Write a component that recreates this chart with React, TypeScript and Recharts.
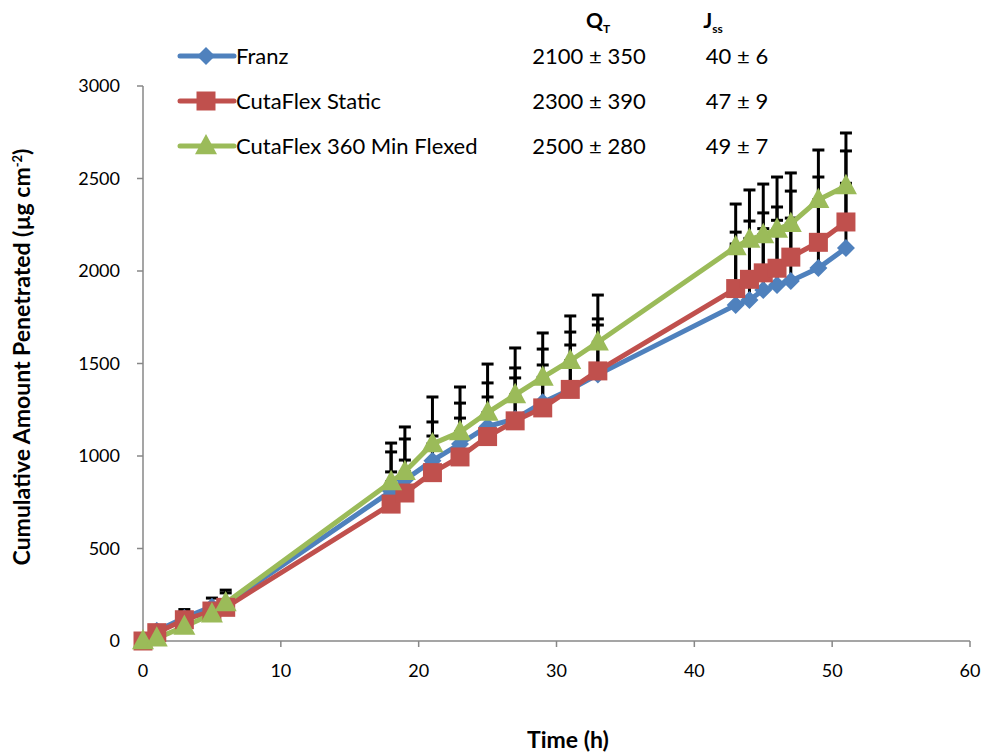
import React from 'react';
import { ComposedChart, Line, XAxis, YAxis, ErrorBar } from 'recharts';

const times = [0, 1, 3, 5, 6, 18, 19, 21, 23, 25, 27, 29, 31, 33, 43, 44, 45, 46, 47, 49, 51];

const franzValues = [0, 55, 125, 185, 200, 810, 870, 975, 1065, 1160, 1200, 1290, 1360, 1440, 1816, 1843, 1897, 1924, 1946, 2016, 2124];
const franzErrors = [0, 15, 45, 47, 60, 212, 222, 209, 221, 235, 276, 288, 310, 301, 330, 333, 332, 350, 340, 350, 350];

const staticValues = [0, 45, 115, 162, 182, 740, 800, 910, 995, 1105, 1190, 1260, 1360, 1460, 1905, 1955, 1990, 2015, 2075, 2155, 2265];
const staticErrors = [0, 10, 30, 35, 40, 174, 178, 198, 210, 214, 232, 232, 240, 248, 305, 315, 324, 331, 357, 353, 384];

const flexedValues = [0, 15, 78, 145, 205, 860, 915, 1065, 1130, 1235, 1330, 1425, 1515, 1615, 2130, 2170, 2195, 2225, 2255, 2385, 2460];
const flexedErrors = [0, 10, 25, 40, 70, 210, 242, 254, 243, 262, 254, 240, 242, 255, 232, 268, 275, 283, 275, 269, 286];

const xTicks = [0, 10, 20, 30, 40, 50, 60];
const yTicks = [0, 500, 1000, 1500, 2000, 2500, 3000];

const seriesNames = ['Franz', 'CutaFlex Static', 'CutaFlex 360 Min Flexed'];
const qtLabels = ['2100 ± 350', '2300 ± 390', '2500 ± 280'];
const jssLabels = ['40 ± 6', '47 ± 9', '49 ± 7'];

const BLUE = '#4F81BD';
const RED = '#C0504D';
const GREEN = '#9BBB59';
const AXIS = '#878787';
const FONT = 'Lato, "Open Sans", sans-serif';

const build = (vals: number[], errs: number[]) =>
  times.map((t, i) => ({ t, v: vals[i], e: [0, errs[i]] }));

const franzData = build(franzValues, franzErrors);
const staticData = build(staticValues, staticErrors);
const flexedData = build(flexedValues, flexedErrors);

const diamondPath = (cx: number, cy: number, r: number) =>
  `M${cx},${cy - r}L${cx + r},${cy}L${cx},${cy + r}L${cx - r},${cy}Z`;
const squarePath = (cx: number, cy: number, r: number) =>
  `M${cx - r},${cy - r}L${cx + r},${cy - r}L${cx + r},${cy + r}L${cx - r},${cy + r}Z`;
const trianglePath = (cx: number, cy: number, r: number) =>
  `M${cx},${cy - r * 1.1}L${cx + r},${cy + r * 0.75}L${cx - r},${cy + r * 0.75}Z`;

const makeDot = (kind: string, color: string) => (props: any) => {
  const { cx, cy, index } = props;
  if (cx == null || cy == null) return <g key={`d-${kind}-${index}`} />;
  let d = '';
  if (kind === 'diamond') d = diamondPath(cx, cy, 9);
  else if (kind === 'square') d = squarePath(cx, cy, 9.5);
  else d = trianglePath(cx, cy, 11);
  return <path key={`d-${kind}-${index}`} d={d} fill={color} stroke="none" />;
};

const legendKinds = ['diamond', 'square', 'triangle'];
const legendColors = [BLUE, RED, GREEN];
const legendRowsY = [56, 101, 146];

export default function App() {
  return (
    <div style={{ position: 'absolute', left: 0, top: 0, width: 985, height: 753, background: '#fff' }}>
      <ComposedChart
        width={985}
        height={753}
        margin={{ top: 86, right: 15, bottom: 0, left: 0 }}
      >
        <XAxis
          dataKey="t"
          type="number"
          domain={[0, 60]}
          ticks={xTicks}
          allowDuplicatedCategory={false}
          axisLine={{ stroke: AXIS, strokeWidth: 1.5 }}
          tickLine={{ stroke: AXIS, strokeWidth: 1.5 }}
          tickSize={6}
          tickMargin={17}
          tick={{ fill: '#000', fontSize: 18, fontFamily: FONT }}
          height={112}
        />
        <YAxis
          type="number"
          domain={[0, 3000]}
          ticks={yTicks}
          width={143}
          axisLine={{ stroke: AXIS, strokeWidth: 1.5 }}
          tickLine={{ stroke: AXIS, strokeWidth: 1.5 }}
          tickSize={6}
          tickMargin={17}
          tick={{ fill: '#000', fontSize: 18, fontFamily: FONT }}
        />
        <Line
          data={franzData}
          dataKey="v"
          name={seriesNames[0]}
          stroke={BLUE}
          strokeWidth={5}
          dot={makeDot('diamond', BLUE)}
          activeDot={false}
          isAnimationActive={false}
        >
          <ErrorBar dataKey="e" direction="y" width={6} stroke="#000" strokeWidth={3} isAnimationActive={false} />
        </Line>
        <Line
          data={staticData}
          dataKey="v"
          name={seriesNames[1]}
          stroke={RED}
          strokeWidth={5}
          dot={makeDot('square', RED)}
          activeDot={false}
          isAnimationActive={false}
        >
          <ErrorBar dataKey="e" direction="y" width={6} stroke="#000" strokeWidth={3} isAnimationActive={false} />
        </Line>
        <Line
          data={flexedData}
          dataKey="v"
          name={seriesNames[2]}
          stroke={GREEN}
          strokeWidth={5}
          dot={makeDot('triangle', GREEN)}
          activeDot={false}
          isAnimationActive={false}
        >
          <ErrorBar dataKey="e" direction="y" width={6} stroke="#000" strokeWidth={3} isAnimationActive={false} />
        </Line>
      </ComposedChart>
      <svg
        width={985}
        height={753}
        style={{ position: 'absolute', left: 0, top: 0, pointerEvents: 'none' }}
      >
        <text x={598} y={28} textAnchor="middle" fontFamily={FONT} fontWeight="bold" fontSize={21}>
          Q<tspan fontSize={12} dy={5}>T</tspan>
        </text>
        <text x={713} y={28} textAnchor="middle" fontFamily={FONT} fontWeight="bold" fontSize={21}>
          J<tspan fontSize={12} dy={5}>ss</tspan>
        </text>
        {seriesNames.map((name, i) => {
          const y = legendRowsY[i];
          const cx = 206;
          let d = '';
          if (legendKinds[i] === 'diamond') d = diamondPath(cx, y, 9);
          else if (legendKinds[i] === 'square') d = squarePath(cx, y, 9.5);
          else d = trianglePath(cx, y, 11);
          return (
            <g key={name}>
              <line x1={180} y1={y} x2={234} y2={y} stroke={legendColors[i]} strokeWidth={5} strokeLinecap="round" />
              <path d={d} fill={legendColors[i]} />
              <text x={236} y={y + 8} fontFamily={FONT} fontSize={22} fill="#000">{name}</text>
              <text x={589} y={y + 8} textAnchor="middle" fontFamily={FONT} fontSize={22} fill="#000">{qtLabels[i]}</text>
              <text x={737} y={y + 8} textAnchor="middle" fontFamily={FONT} fontSize={22} fill="#000">{jssLabels[i]}</text>
            </g>
          );
        })}
        <text
          transform="translate(30,357) rotate(-90)"
          textAnchor="middle"
          fontFamily={FONT}
          fontWeight="bold"
          fontSize={23}
          fill="#000"
        >
          Cumulative Amount Penetrated (µg cm<tspan fontSize={13} dy={-8}>-2</tspan><tspan dy={8}>)</tspan>
        </text>
        <text x={568} y={748} textAnchor="middle" fontFamily={FONT} fontWeight="bold" fontSize={23} fill="#000">
          Time (h)
        </text>
      </svg>
    </div>
  );
}
